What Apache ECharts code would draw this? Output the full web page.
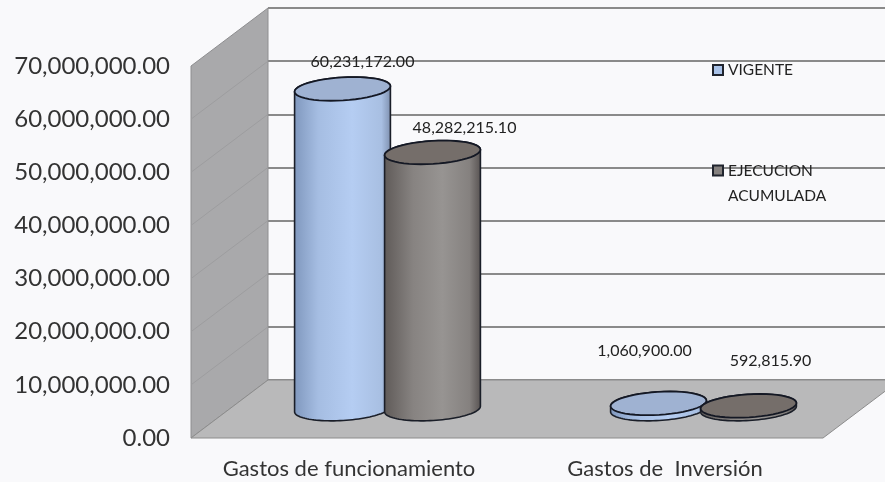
<!DOCTYPE html>
<html><head><meta charset="utf-8">
<style>html,body{margin:0;padding:0;background:#f9f9fb}#c{width:885px;height:482px}</style>
<script src="https://cdn.jsdelivr.net/npm/echarts@6/dist/echarts.min.js"></script>
</head><body><div id="c"></div>
<script>
const categories = ['Gastos de funcionamiento', 'Gastos de  Inversión'];
const vigente = [60231172.00, 1060900.00];
const ejecucion = [48282215.10, 592815.90];
const yTicks = [0, 10000000, 20000000, 30000000, 40000000, 50000000, 60000000, 70000000];
const vigenteLabelShift = [[20, -27], [-14, -53]];
const ejecucionLabelShift = [[32, -25], [22, -45]];

const DEPTH = [77, -58];
const FONT = 'Lato';
const fmt = v => v.toLocaleString('en-US', {minimumFractionDigits: 2, maximumFractionDigits: 2});
const RX = 48, RY = 11.5, TILT = -3.5 * Math.PI / 180;
function arc(cx, cy, from, to) {
  const out = [];
  for (let i = 0; i <= 48; i++) {
    const t = from + (to - from) * i / 48;
    const x = RX * Math.cos(t), y = RY * Math.sin(t);
    out.push([cx + x * Math.cos(TILT) - y * Math.sin(TILT), cy + x * Math.sin(TILT) + y * Math.cos(TILT)]);
  }
  return out;
}
function cylinderSeries(name, values, shiftX, labelShift, stops, topColor) {
  return {
    type: 'custom', name, xAxisIndex: 0, yAxisIndex: 0, z: 5,
    itemStyle: {color: topColor},
    encode: {x: 0, y: 1},
    data: values.map((v, i) => [i, v]),
    renderItem(params, api) {
      const i = api.value(0), v = api.value(1);
      const base = api.coord([i, 0]), top = api.coord([i, v]);
      const cx = base[0] + DEPTH[0] / 2 + shiftX;
      const by = base[1] + DEPTH[1] / 2, ty = top[1] + DEPTH[1] / 2;
      const Pi = Math.PI;
      const body = arc(cx, by, 0, Pi).concat(arc(cx, ty, Pi, 2 * Pi));
      const ring = arc(cx, ty, 0, 2 * Pi);
      const ls = labelShift[i];
      return {type: 'group', children: [
        {type: 'polygon', shape: {points: body}, style: {
          fill: new echarts.graphic.LinearGradient(0, 0, 1, 0, stops),
          stroke: '#1a1e28', lineWidth: 1.6}},
        {type: 'polygon', shape: {points: ring}, style: {fill: topColor, stroke: '#141824', lineWidth: 1.8}},
        {type: 'text', style: {text: fmt(v), x: cx + ls[0], y: ty + ls[1], align: 'center', verticalAlign: 'middle',
          font: '16px ' + FONT, fill: '#222'}, z2: 20}
      ]};
    }
  };
}
const structure = {
  type: 'custom', silent: true, xAxisIndex: 0, yAxisIndex: 0, z: 1,
  legendHoverLink: false, data: [[0, 0]], encode: {x: 0, y: 1},
  renderItem(params, api) {
    const s = params.coordSys;
    const x0 = s.x, y0 = s.y + s.height, yT = s.y, x1 = s.x + s.width;
    const dx = DEPTH[0], dy = DEPTH[1];
    const kids = [
      {type: 'polygon', shape: {points: [[x0, yT], [x0 + dx, yT + dy], [x0 + dx, y0 + dy], [x0, y0]]},
        style: {fill: '#a9a9ab', stroke: '#8e8e90', lineWidth: 1}},
      {type: 'polygon', shape: {points: [[x0, y0], [x0 + dx, y0 + dy], [x1 + dx, y0 + dy], [x1, y0]]},
        style: {fill: '#b9b9ba', stroke: '#8c8c8c', lineWidth: 1}}
    ];
    yTicks.forEach(t => {
      if (t === 0 || t === yTicks[yTicks.length - 1]) return;
      const y = api.coord([0, t])[1];
      kids.push({type: 'line', shape: {x1: x0, y1: y, x2: x0 + dx, y2: y + dy},
        style: {stroke: '#9d9d9f', lineWidth: 1}});
    });
    return {type: 'group', children: kids};
  }
};
const chart = echarts.init(document.getElementById('c'));
chart.setOption({
  animation: false,
  backgroundColor: '#f9f9fb',
  textStyle: {fontFamily: FONT},
  grid: [
    {left: 191, top: 66, width: 632, height: 372},
    {left: 268, top: 8, width: 640, height: 372}
  ],
  xAxis: [
    {type: 'category', gridIndex: 0, data: categories, axisLine: {show: false}, axisTick: {show: false},
      axisLabel: {fontFamily: FONT, fontSize: 22, color: '#333', margin: 20, interval: 0, hideOverlap: false}},
    {type: 'category', gridIndex: 1, data: categories, show: false}
  ],
  yAxis: [
    {type: 'value', gridIndex: 0, min: 0, max: 70000000, interval: 10000000, splitLine: {show: false},
      axisLine: {show: false}, axisTick: {show: false},
      axisLabel: {fontFamily: FONT, fontSize: 24, color: '#333', margin: 21, formatter: fmt}},
    {type: 'value', gridIndex: 1, min: 0, max: 70000000, interval: 10000000,
      axisLine: {show: false}, axisTick: {show: false}, axisLabel: {show: false},
      splitLine: {show: true, lineStyle: {color: '#8a8a8a', width: 2}}}
  ],
  legend: [
    {left: 712, top: 62, data: ['VIGENTE'], itemWidth: 10, itemHeight: 10, selectedMode: false,
      icon: 'rect', padding: 0,
      itemStyle: {color: '#a9c2e8', borderColor: '#20242e', borderWidth: 2},
      textStyle: {fontFamily: FONT, fontSize: 15.5, color: '#222'}},
    {left: 712, top: 133, data: ['EJECUCION ACUMULADA'], itemWidth: 10, itemHeight: 10, selectedMode: false,
      icon: 'rect', padding: 0,
      formatter: () => '\nEJECUCION\nACUMULADA',
      itemStyle: {color: '#85817f', borderColor: '#20242e', borderWidth: 2},
      textStyle: {fontFamily: FONT, fontSize: 15.5, lineHeight: 25, color: '#222'}}
  ],
  series: [
    structure,
    cylinderSeries('VIGENTE', vigente, -45, vigenteLabelShift,
      [{offset: 0, color: '#7f97bd'}, {offset: 0.25, color: '#a5bde2'}, {offset: 0.6, color: '#b5cdf2'}, {offset: 0.9, color: '#a8bfe2'}, {offset: 1, color: '#7d8fae'}], '#9fb2d2'),
    cylinderSeries('EJECUCION ACUMULADA', ejecucion, 45, ejecucionLabelShift,
      [{offset: 0, color: '#5f5a58'}, {offset: 0.3, color: '#878381'}, {offset: 0.6, color: '#979492'}, {offset: 0.88, color: '#85817f'}, {offset: 1, color: '#575251'}], '#756e6a')
  ]
});
</script></body></html>
